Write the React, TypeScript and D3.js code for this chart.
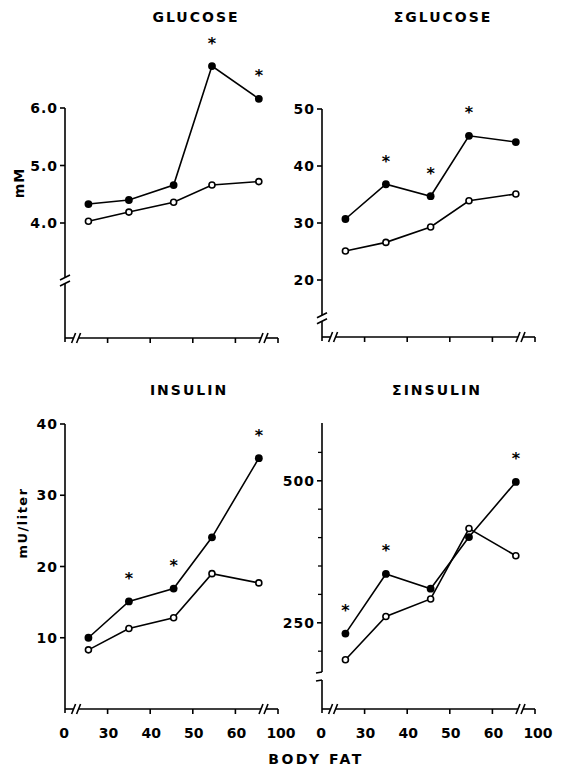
import React from "react";
import * as d3 from "d3";

// ---- data ----
const bodyFat = [25.5, 35, 45.5, 54.5, 65.5];
const xTicks = [30, 40, 50, 60];
const xEndLabels = ["0", "100"];

const glucoseObese = [4.33, 4.4, 4.66, 6.73, 6.16];
const glucoseLean = [4.03, 4.19, 4.36, 4.66, 4.72];
const glucoseStars = [false, false, false, true, true];
const glucoseTicks = [4, 5, 6];

const sumGlucoseObese = [30.7, 36.8, 34.7, 45.3, 44.2];
const sumGlucoseLean = [25.1, 26.6, 29.3, 33.9, 35.1];
const sumGlucoseStars = [false, true, true, true, false];
const sumGlucoseTicks = [20, 30, 40, 50];

const insulinObese = [10.0, 15.1, 16.9, 24.1, 35.2];
const insulinLean = [8.3, 11.3, 12.8, 19.0, 17.7];
const insulinStars = [false, true, true, false, true];
const insulinTicks = [10, 20, 30, 40];

const sumInsulinObese = [231, 336, 310, 401, 498];
const sumInsulinLean = [185, 261, 292, 416, 368];
const sumInsulinStars = [true, true, false, false, true];
const sumInsulinTicks = [250, 500];
const sumInsulinMinorTicks = [200, 300, 350, 400, 450, 550];

const FONT = "'DejaVu Sans', sans-serif";

type Cfg = {
  title: string;
  titleX: number;
  titleY: number;
  x0: number;
  x1: number;
  domain: [number, number];
  range: [number, number];
  axisTop: number;
  axisBot: number;
  ticks: number[];
  minor?: number[];
  fmt: (n: number) => string;
  obese: number[];
  lean: number[];
  stars: boolean[];
  yBreak?: number; // value where y axis is broken with slashes
  capBreak?: [number, number]; // pixel y of cap-style break
  xLabels: boolean;
};

const panels: Cfg[] = [
  {
    title: "GLUCOSE", titleX: 196, titleY: 22,
    x0: 65, x1: 278, domain: [2, 6], range: [338, 108], axisTop: 108, axisBot: 338,
    ticks: glucoseTicks, fmt: d3.format(".1f"),
    obese: glucoseObese, lean: glucoseLean, stars: glucoseStars,
    yBreak: 3.0, xLabels: false,
  },
  {
    title: "ΣGLUCOSE", titleX: 443, titleY: 22,
    x0: 322, x1: 535, domain: [10, 50], range: [337, 109], axisTop: 109, axisBot: 337,
    ticks: sumGlucoseTicks, fmt: d3.format("d"),
    obese: sumGlucoseObese, lean: sumGlucoseLean, stars: sumGlucoseStars,
    yBreak: 13.3, xLabels: false,
  },
  {
    title: "INSULIN", titleX: 189, titleY: 395,
    x0: 65, x1: 278, domain: [0, 40], range: [709, 424], axisTop: 424, axisBot: 709,
    ticks: insulinTicks, fmt: d3.format("d"),
    obese: insulinObese, lean: insulinLean, stars: insulinStars,
    xLabels: true,
  },
  {
    title: "ΣINSULIN", titleX: 437, titleY: 395,
    x0: 322, x1: 535, domain: [100, 600], range: [708, 424], axisTop: 423, axisBot: 709,
    ticks: sumInsulinTicks, minor: sumInsulinMinorTicks, fmt: d3.format("d"),
    obese: sumInsulinObese, lean: sumInsulinLean, stars: sumInsulinStars,
    capBreak: [672, 680], xLabels: true,
  },
];

const SW = 1.6;

function Panel({ cfg }: { cfg: Cfg }) {
  const x = d3.scaleLinear().domain([20, 70]).range([cfg.x0, cfg.x1]);
  const y = d3.scaleLinear().domain(cfg.domain).range(cfg.range);
  const line = d3
    .line<number>()
    .x((_, i) => x(bodyFat[i]))
    .y((d) => y(d));
  const ax = cfg.x0;
  const ay = cfg.axisBot;

  // y axis segments
  const ySegs: [number, number][] = [];
  const yMarks: React.ReactNode[] = [];
  if (cfg.yBreak !== undefined) {
    const yb = y(cfg.yBreak);
    ySegs.push([cfg.axisTop, yb - 3], [yb + 3, ay + 4]);
    [yb - 3, yb + 3].forEach((v, k) =>
      yMarks.push(
        <line key={"yb" + k} x1={ax - 5} y1={v + 2.5} x2={ax + 5} y2={v - 2.5} stroke="#000" strokeWidth={SW} />
      )
    );
  } else if (cfg.capBreak) {
    const [a, b] = cfg.capBreak;
    ySegs.push([cfg.axisTop, a], [b, ay + 4]);
    yMarks.push(
      <line key="c1" x1={ax - 6} y1={a + 1} x2={ax} y2={a} stroke="#000" strokeWidth={SW} />,
      <line key="c2" x1={ax - 6} y1={b + 1} x2={ax} y2={b} stroke="#000" strokeWidth={SW} />
    );
  } else {
    ySegs.push([cfg.axisTop, ay + 4]);
  }

  // x axis with breaks
  const bL = x(22.6);
  const bR = x(66.6);
  const xSegs: [number, number][] = [
    [ax, bL - 2.5],
    [bL + 2.5, bR - 2.5],
    [bR + 2.5, cfg.x1],
  ];

  return (
    <g>
      <text x={cfg.titleX} y={cfg.titleY} textAnchor="middle" fontFamily={FONT} fontWeight="bold" fontSize={14} letterSpacing={2}>
        {cfg.title}
      </text>
      {ySegs.map(([a, b], i) => (
        <line key={"ys" + i} x1={ax} y1={a} x2={ax} y2={b} stroke="#000" strokeWidth={SW} />
      ))}
      {yMarks}
      {cfg.ticks.map((t) => (
        <g key={"yt" + t}>
          <line x1={ax - 5} x2={ax} y1={y(t)} y2={y(t)} stroke="#000" strokeWidth={SW} />
          <text x={ax - 7} y={y(t) + 5} textAnchor="end" fontFamily={FONT} fontWeight="bold" fontSize={14} letterSpacing={1}>
            {cfg.fmt(t)}
          </text>
        </g>
      ))}
      {(cfg.minor || []).map((t) => (
        <line key={"ym" + t} x1={ax - 4} x2={ax} y1={y(t)} y2={y(t)} stroke="#000" strokeWidth={1.3} />
      ))}
      {xSegs.map(([a, b], i) => (
        <line key={"xs" + i} x1={a} y1={ay} x2={b} y2={ay} stroke="#000" strokeWidth={SW} />
      ))}
      {[bL - 2.5, bL + 2.5, bR - 2.5, bR + 2.5].map((v, i) => (
        <line key={"xb" + i} x1={v - 2} y1={ay + 5} x2={v + 2} y2={ay - 5} stroke="#000" strokeWidth={SW} />
      ))}
      <line x1={cfg.x1} y1={ay} x2={cfg.x1} y2={ay + 5} stroke="#000" strokeWidth={SW} />
      {xTicks.map((t) => (
        <line key={"xt" + t} x1={x(t)} x2={x(t)} y1={ay} y2={ay + 5} stroke="#000" strokeWidth={SW} />
      ))}
      {cfg.xLabels && (
        <g fontFamily={FONT} fontWeight="bold" fontSize={14} textAnchor="middle">
          {xTicks.map((t) => (
            <text key={"xl" + t} x={x(t) + 1} y={ay + 29}>
              {t}
            </text>
          ))}
          <text x={x(20) - 1} y={ay + 29}>{xEndLabels[0]}</text>
          <text x={x(70) + 3} y={ay + 29}>{xEndLabels[1]}</text>
        </g>
      )}
      <path d={line(cfg.obese) || ""} fill="none" stroke="#000" strokeWidth={SW} />
      <path d={line(cfg.lean) || ""} fill="none" stroke="#000" strokeWidth={SW} />
      {cfg.lean.map((v, i) => (
        <circle key={"l" + i} cx={x(bodyFat[i])} cy={y(v)} r={3} fill="#fff" stroke="#000" strokeWidth={1.6} />
      ))}
      {cfg.obese.map((v, i) => (
        <circle key={"o" + i} cx={x(bodyFat[i])} cy={y(v)} r={3.9} fill="#000" />
      ))}
      {cfg.stars.map((s, i) =>
        s ? (
          <text key={"s" + i} x={x(bodyFat[i])} y={y(cfg.obese[i]) - 27 + 9.5} textAnchor="middle" fontFamily={FONT} fontWeight="bold" fontSize={16}>
            *
          </text>
        ) : null
      )}
    </g>
  );
}

export default function App() {
  return (
    <svg width={561} height={772} style={{ position: "absolute", left: 0, top: 0, background: "#fff" }}>
      <rect width={561} height={772} fill="#fff" />
      {panels.map((p) => (
        <Panel key={p.title} cfg={p} />
      ))}
      <text transform="translate(24,183) rotate(-90)" textAnchor="middle" fontFamily={FONT} fontWeight="bold" fontSize={14} letterSpacing={1}>
        mM
      </text>
      <text transform="translate(27,523) rotate(-90)" textAnchor="middle" fontFamily={FONT} fontWeight="bold" fontSize={13} letterSpacing={1.5}>
        mU/liter
      </text>
      <text x={316} y={764} textAnchor="middle" fontFamily={FONT} fontWeight="bold" fontSize={14} letterSpacing={2.5}>
        BODY FAT
      </text>
    </svg>
  );
}
